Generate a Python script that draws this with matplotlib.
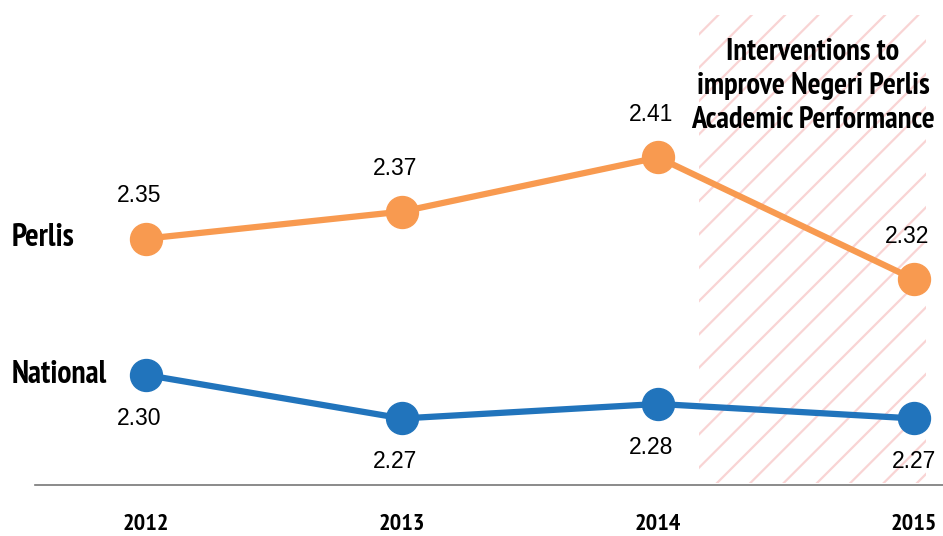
import matplotlib
matplotlib.use("Agg")
import matplotlib.pyplot as plt
from matplotlib import font_manager
from matplotlib.font_manager import FontProperties

# ----------------- DATA -----------------

years = [2012, 2013, 2014, 2015]
perlis = [2.35, 2.37, 2.41, 2.32]
national = [2.30, 2.27, 2.28, 2.27]
series_names = ["Perlis", "National"]
note = "Interventions to\nimprove Negeri Perlis\nAcademic Performance"
intervention_span = [2014.16, 2015.047]

# ----------------- STYLE -----------------

orange = "#f89a50"
blue = "#2174bc"
hatch_color = "#f9d4d4"

fonts = font_manager.fontManager.ttflist
cands = []
for f in fonts:
    low = (f.name + " " + f.fname).lower()
    narrowish = ("narrow" in low or "condensed" in low or str(f.stretch) in ("condensed", "semi-condensed"))
    boldish = (f.weight in ("bold", 700) or (isinstance(f.weight, int) and f.weight >= 600)
               or "bold" in f.fname.lower())
    if narrowish and boldish and "italic" not in low and "oblique" not in low:
        cands.append(f)
cands.sort(key=lambda f: (0 if "narrow" in f.fname.lower() else 1, f.fname))


def narrow_font(size):
    if cands:
        return FontProperties(fname=cands[0].fname, size=size)
    return FontProperties(family=["Roboto", "DejaVu Sans"], weight="bold", size=size * 0.8)


available = {f.name for f in fonts}
plain = "Liberation Sans" if "Liberation Sans" in available else "DejaVu Sans"

plt.rcParams["hatch.linewidth"] = 1.6

fig = plt.figure(figsize=(9.43, 5.36), dpi=100)
ax = fig.add_axes([35 / 943, 51 / 536, 908 / 943, 485 / 536])
ax2 = ax.twinx()

ax.set_xlim(2011.566, 2015.113)
ax.set_ylim(2.168, 2.5263)
ax2.set_ylim(2.2241, 2.5586)

# hatched intervention band
ax.axvspan(intervention_span[0], intervention_span[1], ymin=0.004, ymax=0.969,
           facecolor="none", edgecolor=hatch_color, hatch="/", linewidth=0, zorder=0)

ax.plot(years, perlis, color=orange, lw=4.5, marker="o", ms=23, zorder=3)
ax2.plot(years, national, color=blue, lw=4.5, marker="o", ms=23, zorder=3)

for x, v in zip(years, perlis):
    ax.annotate(f"{v:.2f}", (x, v), xytext=(-5, 31), textcoords="offset points",
                ha="center", va="center", fontsize=16.5, family=plain)
for x, v in zip(years, national):
    dx = -5 if x != 2015 else 0
    ax2.annotate(f"{v:.2f}", (x, v), xytext=(dx, -31), textcoords="offset points",
                 ha="center", va="center", fontsize=16.5, family=plain)

# series names on the left
fig.text(12 / 943, 1 - 238 / 536, series_names[0], ha="left", va="center",
         fontproperties=narrow_font(22.8))
fig.text(12 / 943, 1 - 375 / 536, series_names[1], ha="left", va="center",
         fontproperties=narrow_font(22.8))

ax.text(2014.605, 0.823, note, transform=ax.get_xaxis_transform(), ha="center", va="center",
        fontproperties=narrow_font(22), linespacing=1.28, zorder=4)

# axes cosmetics
for a in (ax, ax2):
    for side in ("top", "left", "right"):
        a.spines[side].set_visible(False)
    a.set_yticks([])
ax2.spines["bottom"].set_visible(False)
ax.spines["bottom"].set_color("#777777")
ax.spines["bottom"].set_linewidth(1.2)

ax.set_xticks(years)
ax.set_xticklabels([str(y) for y in years])
for t in ax.get_xticklabels():
    t.set_fontproperties(narrow_font(17.4))
ax.tick_params(axis="x", length=0, pad=21)

fig.savefig("out.png", dpi=100)
